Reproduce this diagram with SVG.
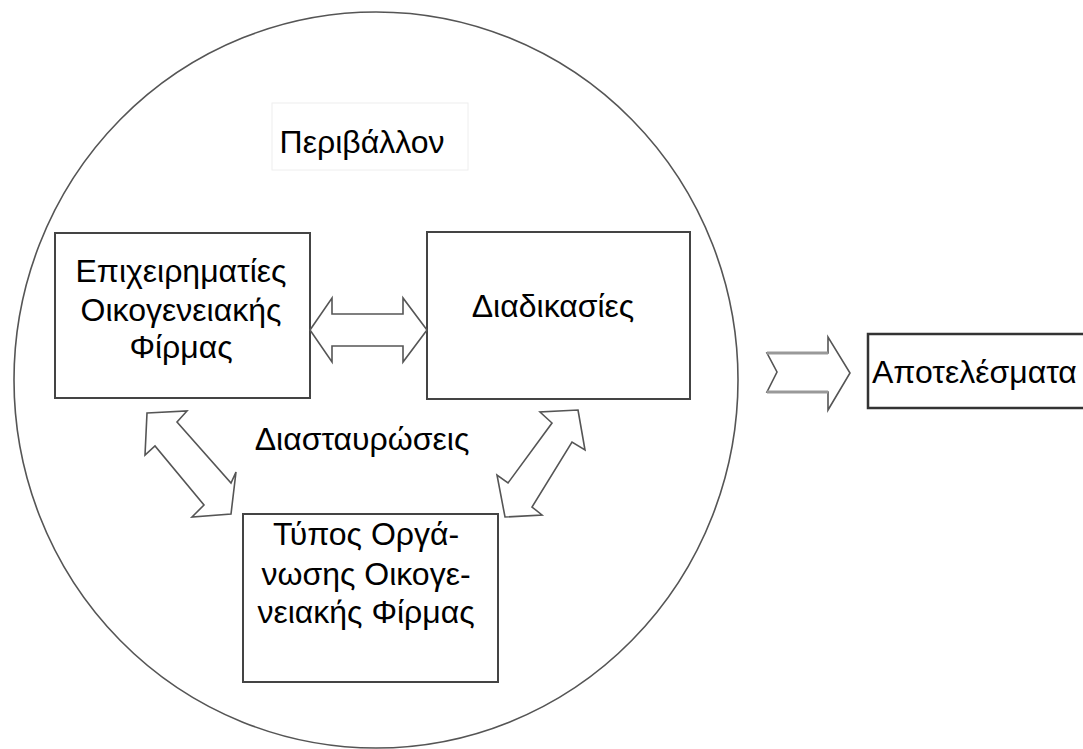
<svg xmlns="http://www.w3.org/2000/svg" width="1083" height="749" viewBox="0 0 1083 749">
<style>
text{font-family:"Liberation Sans",Arial,sans-serif;font-size:32px;fill:#000}
.c{text-anchor:middle}
.box{fill:#fff;stroke:#444;stroke-width:2}
.arr{fill:#fff;stroke:#555;stroke-width:1.6;stroke-linejoin:miter}
</style>
<rect width="1083" height="749" fill="#fff"/>
<g id="environment">
<ellipse cx="376" cy="380" rx="362" ry="368" fill="#fff" stroke="#555" stroke-width="1.6"/>
<rect x="272" y="103" width="196" height="67" fill="#fff" stroke="#eee" stroke-width="1"/>
<text class="c" x="362" y="153">Περιβάλλον</text>
</g>
<g id="entrepreneurs">
<rect class="box" x="55" y="233" width="255" height="165"/>
<text class="c" x="181" y="282">Επιχειρηματίες</text>
<text class="c" x="181" y="321">Οικογενειακής</text>
<text class="c" x="181" y="358">Φίρμας</text>
</g>
<g id="processes">
<rect class="box" x="427" y="232" width="263" height="167"/>
<text class="c" x="553" y="317">Διαδικασίες</text>
</g>
<g id="organization">
<rect class="box" x="243" y="514" width="255" height="168"/>
<text class="c" x="366" y="545">Τύπος Οργά-</text>
<text class="c" x="366" y="585">νωσης Οικογε-</text>
<text class="c" x="366" y="623">νειακής Φίρμας</text>
</g>
<g id="crossings">
<text class="c" x="362" y="450">Διασταυρώσεις</text>
</g>
<g id="results">
<rect x="868" y="334" width="240" height="74" fill="#fff" stroke="#333" stroke-width="2.5"/>
<text x="872" y="383">Αποτελέσματα</text>
</g>
<g id="connectors">
<polygon class="arr" points="310,330 332,298 332,314 403,314 403,298 427,330 403,362 403,346 332,346 332,362"/>
<polygon class="arr" points="147,413 187,411 177,422 231,483 236,472 231,514 192,517 204,505 155,446 145,455"/>
<polygon class="arr" points="578,410 585,450 572,442 532,507 542,515 505,517 497,475 508,483 552,423 540,412"/>
<polygon class="arr" points="767,353 828,353 828,337 850,373 828,410 828,392 767,392 777,372"/>
<line x1="767" y1="353" x2="828" y2="353" stroke="#999" stroke-width="3"/>
<line x1="767" y1="392" x2="828" y2="392" stroke="#999" stroke-width="3"/>
</g>
</svg>
